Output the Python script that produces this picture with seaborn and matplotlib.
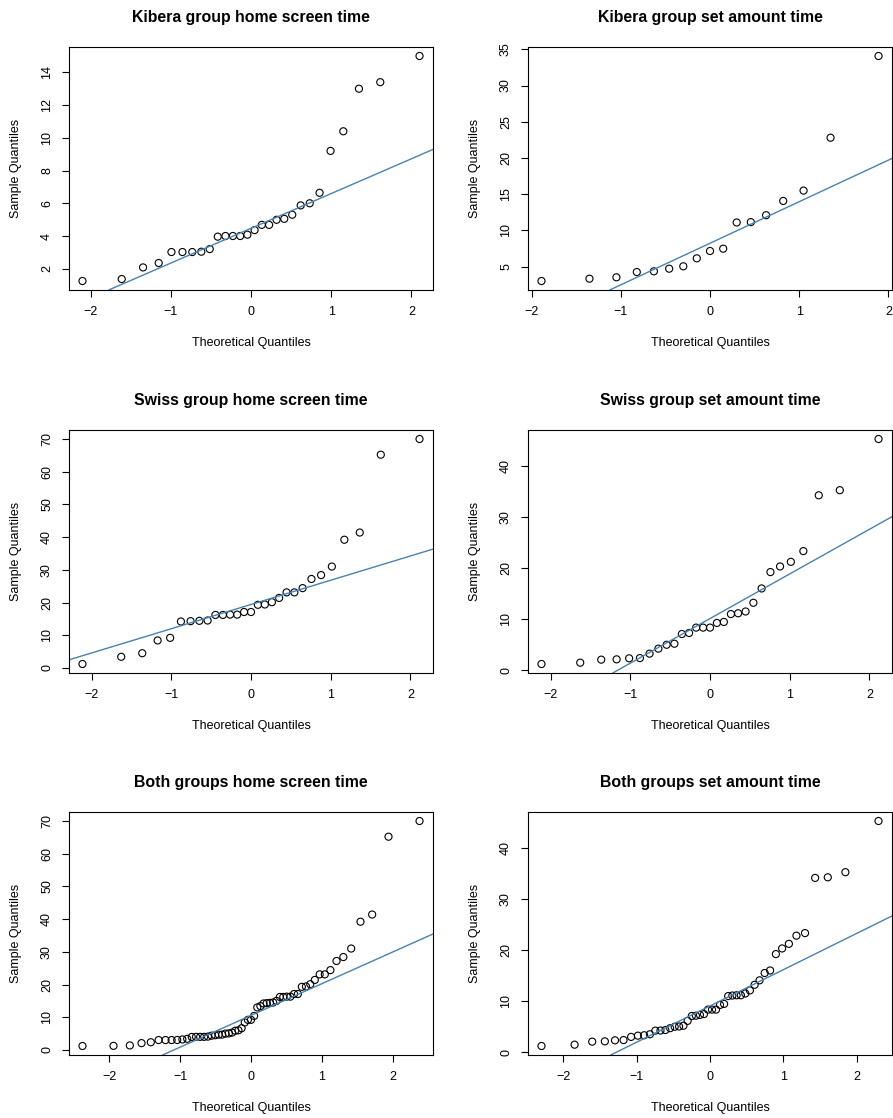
import numpy as np
import pandas as pd
import matplotlib
matplotlib.use("Agg")
import matplotlib.pyplot as plt
import seaborn as sns
from statistics import NormalDist
from matplotlib.ticker import MultipleLocator

# sample values (sorted)
kibera_home = [1.25, 1.37, 2.08, 2.35, 3.02, 3.02, 3.02, 3.04, 3.2, 3.96, 4.0, 4.0, 4.0, 4.08,
               4.36, 4.68, 4.68, 4.99, 5.05, 5.3, 5.87, 6.0, 6.64, 9.2, 10.4, 13.0, 13.4, 15.0]
kibera_set = [3.02, 3.34, 3.53, 4.26, 4.36, 4.72, 5.05, 6.15, 7.16, 7.48, 11.1, 11.15, 12.1,
              14.07, 15.5, 22.8, 34.08]
swiss_home = [1.2, 3.4, 4.5, 8.4, 9.2, 14.2, 14.3, 14.4, 14.5, 16.2, 16.2, 16.3, 16.3, 17.1,
              17.1, 19.3, 19.4, 20.1, 21.4, 23.1, 23.1, 24.4, 27.2, 28.4, 31.0, 39.2, 41.4, 65.2, 70.0]
swiss_set = [1.24, 1.5, 2.09, 2.15, 2.35, 2.4, 3.26, 4.24, 5.0, 5.2, 7.1, 7.3, 8.35, 8.35, 8.35,
             9.26, 9.46, 11.0, 11.15, 11.5, 13.2, 16.0, 19.2, 20.3, 21.2, 23.3, 34.2, 35.2, 45.2]
both_home = kibera_home + swiss_home
both_set = kibera_set + swiss_set

titles = ["Kibera group home screen time", "Kibera group set amount time",
          "Swiss group home screen time", "Swiss group set amount time",
          "Both groups home screen time", "Both groups set amount time"]
series = [kibera_home, kibera_set, swiss_home, swiss_set, both_home, both_set]
ystep = [2, 5, 10, 10, 10, 10]

nd = NormalDist()


def qq_frame(vals):
    y = np.sort(np.array(vals, dtype=float))
    n = len(y)
    a = 3 / 8 if n <= 10 else 0.5
    p = (np.arange(1, n + 1) - a) / (n + 1 - 2 * a)
    x = np.array([nd.inv_cdf(v) for v in p])
    return pd.DataFrame({"theo": x, "sample": y})


sns.set_style("white")
plt.rcParams["font.family"] = ["Liberation Sans", "DejaVu Sans"]
plt.rcParams["axes.edgecolor"] = "black"
plt.rcParams["axes.linewidth"] = 0.8
plt.rcParams["text.color"] = "black"
plt.rcParams["axes.labelcolor"] = "black"
plt.rcParams["axes.titlecolor"] = "black"
plt.rcParams["xtick.color"] = "black"
plt.rcParams["ytick.color"] = "black"

fig = plt.figure(figsize=(8.93, 11.18), dpi=100)
W, H = 893, 1118
lefts = [69, 528]
tops = [47, 430, 812]
pw, ph = 364, 243

for i, (vals, title) in enumerate(zip(series, titles)):
    r, c = divmod(i, 2)
    ax = fig.add_axes([lefts[c] / W, 1 - (tops[r] + ph) / H, pw / W, ph / H])
    df = qq_frame(vals)
    sns.scatterplot(data=df, x="theo", y="sample", ax=ax, marker="o", s=26,
                    facecolor="none", edgecolor="black", linewidth=0.8)
    # qqline through the quartiles
    q1, q3 = np.quantile(df["sample"], [0.25, 0.75])
    x1, x3 = nd.inv_cdf(0.25), nd.inv_cdf(0.75)
    slope = (q3 - q1) / (x3 - x1)
    ax.margins(0.04)
    ax.axline((x1, q1), slope=slope, color="#4682b4", lw=1)
    ax.xaxis.set_major_locator(MultipleLocator(1))
    ax.yaxis.set_major_locator(MultipleLocator(ystep[i]))
    ax.tick_params(axis="both", direction="out", length=5, width=0.8, pad=6.5,
                   labelsize=9, colors="black", bottom=True, left=True)
    ax.tick_params(axis="y", labelrotation=90)
    for lab in ax.get_yticklabels():
        lab.set_va("center")
    ax.set_title(title, fontsize=11.4, fontweight="bold", pad=18, color="black")
    ax.set_xlabel("Theoretical Quantiles", fontsize=9, labelpad=14, color="black")
    ax.set_ylabel("Sample Quantiles", fontsize=9, labelpad=14, color="black")

fig.savefig("out.png", dpi=100)
